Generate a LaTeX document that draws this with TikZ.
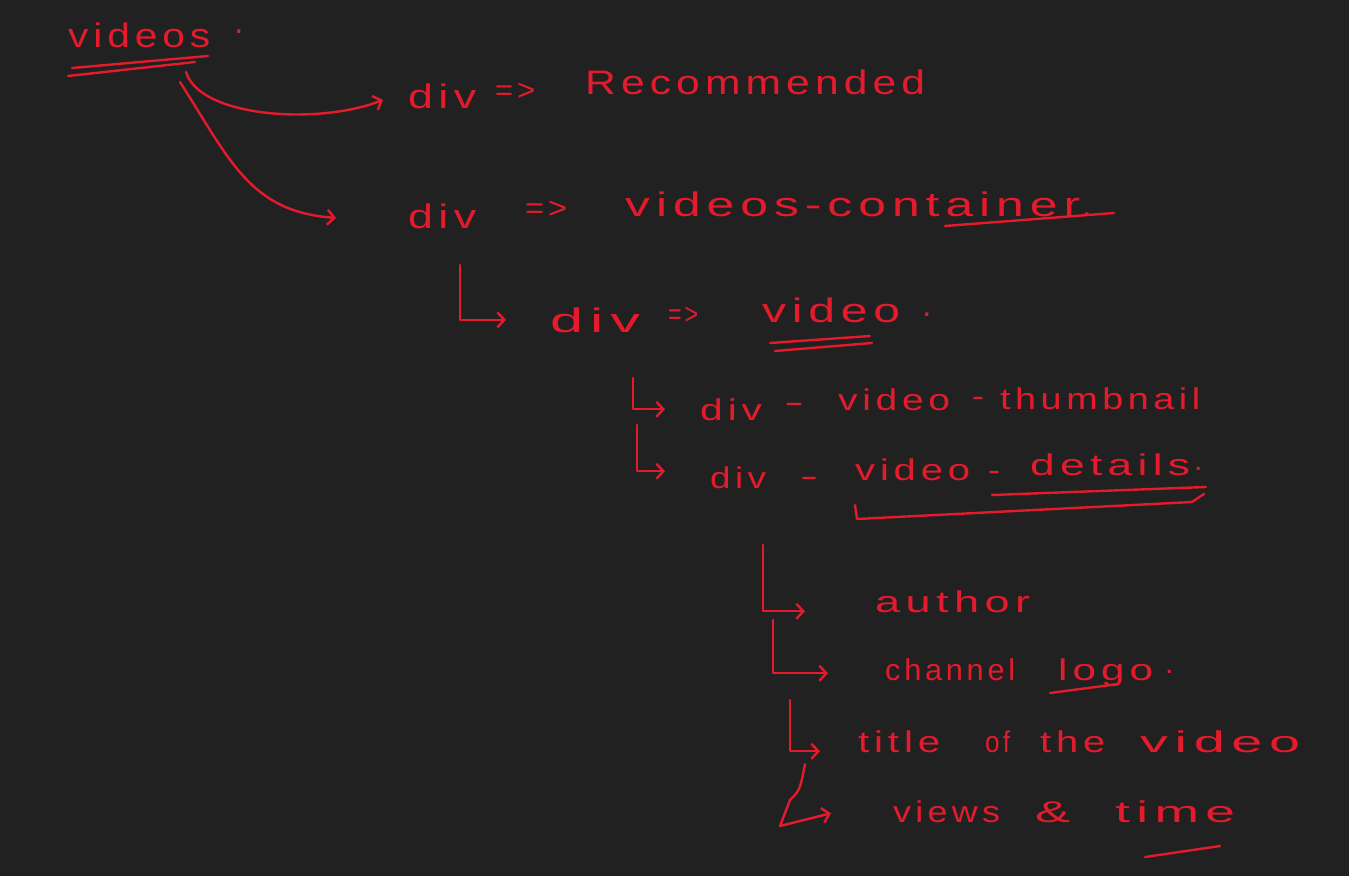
\documentclass[tikz,border=0pt]{standalone}
\usepackage{fontspec}
\setmainfont[LetterSpace=12]{Liberation Sans}
\usetikzlibrary{arrows.meta,calc}
\definecolor{bg}{HTML}{212121}
\definecolor{ink}{HTML}{E31B2C}
\newcommand{\fitw}[2]{\resizebox{#1}{\height}{#2}}
\tikzset{
  hw/.style={text=ink, inner sep=0pt, anchor=base west, font=\fontsize{34}{40}\selectfont},
  hws/.style={hw, font=\fontsize{30}{36}\selectfont},
  pen/.style={draw=ink, line width=2.4pt, line cap=round, line join=round},
  arr/.style={pen, -{Straight Barb[length=7pt,width=15pt,line width=2.4pt]}}
}
\begin{document}
\begin{tikzpicture}[x=1pt,y=-1pt]
\fill[bg] (0,0) rectangle (1349,876);
\useasboundingbox (0,0) rectangle (1349,876);
% top level
\node[hw] (videos) at (68,47) {\fitw{142pt}{videos}};
\node[hw] (dot0) at (234,33) {.};
\draw[pen] (72,68) -- (208,56);
\draw[pen] (68,76) -- (195,62);
% level 1
\node[hw] (div1) at (408,108) {\fitw{68pt}{div}};
\node[hws] (ar1) at (495,100) {\fitw{40pt}{=>}};
\node[hw] (rec) at (585,94) {\fitw{340pt}{Recommended}};
\node[hw] (div2) at (408,228) {\fitw{68pt}{div}};
\node[hws] (ar2) at (525,218) {\fitw{42pt}{=>}};
\node[hw] (vc) at (625,216) {\fitw{455pt}{videos-container}};
\node[hw] (dot2) at (1082,216) {.};
\draw[pen] (945,226) -- (1114,213);
\coordinate (s1) at (186,72);
\coordinate (s2) at (180,82);
\draw[arr] (s1) .. controls (200,118) and (320,125) .. ([xshift=-25pt,yshift=-4pt]div1.west);
\draw[arr] (s2) .. controls (230,160) and (250,212) .. ([xshift=-72pt,yshift=-2pt]div2.west);
% level 2
\node[hw] (div3) at (550,332) {\fitw{90pt}{div}};
\node[hws] (ar3) at (668,324) {\fitw{30pt}{=>}};
\node[hw] (vid3) at (762,322) {\fitw{138pt}{video}};
\node[hw] (dot3) at (922,316) {.};
\draw[pen] (770,343) -- (870,336);
\draw[pen] (775,351) -- (872,343);
\coordinate (l1) at (460,265);
\draw[arr] (l1) |- ([xshift=-44pt]div3.west);
% level 3
\node[hws] (div4) at (700,420) {\fitw{62pt}{div}};
\node[hws] (d4a) at (784,412) {\fitw{20pt}{-}};
\node[hws] (vid4) at (838,410) {\fitw{112pt}{video}};
\node[hws] (d4b) at (972,406) {\fitw{12pt}{-}};
\node[hws] (thumb) at (1000,409) {\fitw{200pt}{thumbnail}};
\node[hws] (div5) at (710,488) {\fitw{56pt}{div}};
\node[hws] (d5a) at (800,486) {\fitw{18pt}{-}};
\node[hws] (vid5) at (855,480) {\fitw{115pt}{video}};
\node[hws] (d5b) at (988,480) {\fitw{12pt}{-}};
\node[hws] (det) at (1030,475) {\fitw{160pt}{details}};
\node[hws] (dot5) at (1194,470) {.};
\coordinate (l2) at (633,378);
\coordinate (l3) at (637,425);
\draw[arr] (l2) |- ([xshift=-35pt]div4.west);
\draw[arr] (l3) |- ([xshift=-45pt,yshift=6pt]div5.west);
\draw[pen] (992,495) -- (1206,487);
\draw[pen] (855,505) -- (857,519) -- (1192,502) -- (1204,494);
% level 4
\node[hws] (auth) at (875,612) {\fitw{155pt}{author}};
\node[hws] (chan) at (885,680) {\fitw{130pt}{channel}};
\node[hws] (logo) at (1058,680) {\fitw{95pt}{logo}};
\node[hws] (dot6) at (1165,673) {.};
\draw[pen] (1050,693) -- (1118,684);
\node[hws] (title) at (858,752) {\fitw{82pt}{title}};
\node[hws] (of) at (985,752) {\fitw{25pt}{of}};
\node[hws] (the) at (1040,752) {\fitw{65pt}{the}};
\node[hws] (vid7) at (1140,752) {\fitw{160pt}{video}};
\node[hws] (views) at (893,822) {\fitw{107pt}{views}};
\node[hws] (amp) at (1035,822) {\fitw{35pt}{\&}};
\node[hws] (time) at (1115,822) {\fitw{120pt}{time}};
\draw[pen] (1145,857) -- (1220,846);
\coordinate (l4) at (763,545);
\coordinate (l5) at (773,620);
\coordinate (l6) at (790,700);
\coordinate (l7) at (805,764);
\draw[arr] (l4) |- ([xshift=-70pt,yshift=-10pt]auth.west);
\draw[arr] (l5) |- ([xshift=-57pt,yshift=-4pt]chan.west);
\draw[arr] (l6) |- ([xshift=-38pt,yshift=-10pt]title.west);
\draw[arr] (l7) .. controls (800,790) .. (790,800) -- (780,826) -- ([xshift=-62pt,yshift=-2pt]views.west);
\end{tikzpicture}
\end{document}
